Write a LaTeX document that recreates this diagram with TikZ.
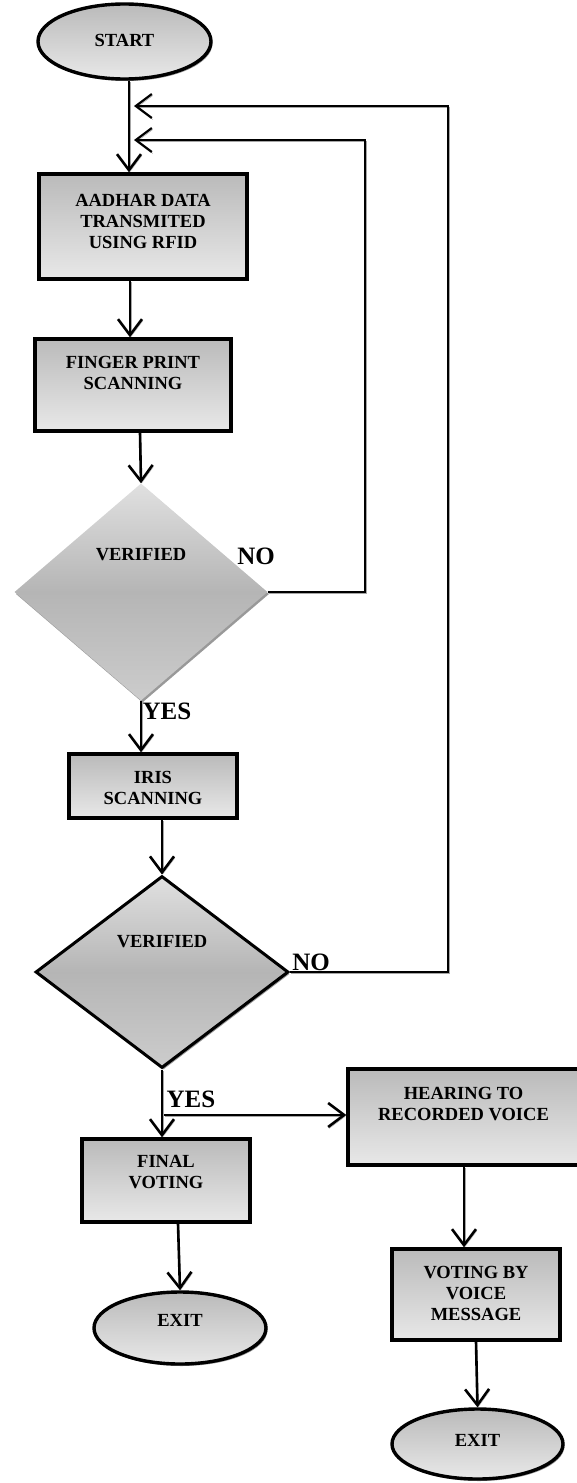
\documentclass[tikz,border=0pt]{standalone}
\usepackage{fontspec}
\setmainfont{Liberation Serif}
\usetikzlibrary{shapes.geometric,shadows,arrows.meta,calc}
\begin{document}
\begin{tikzpicture}[x=1pt,y=-1pt,
  shd/.style={drop shadow={shadow xshift=1.5pt,shadow yshift=-2pt,fill=black!40,opacity=1}},
  boxfill/.style={top color=black!27,bottom color=black!9},
  pbox/.style={rectangle,draw=black,line width=3.4pt,boxfill,shd,inner sep=0pt},
  term/.style={ellipse,draw=black,line width=3.4pt,boxfill,shd,inner sep=0pt},
  dec/.style={diamond,inner sep=0pt,top color=black!12,bottom color=black!20,middle color=black!29,shd},
  txt/.style={font=\bfseries\fontsize{18.5}{21}\selectfont,align=center,text=black},
  big/.style={font=\bfseries\fontsize{25}{28}\selectfont,text=black},
  arr/.style={line width=2.6pt,-{Straight Barb[length=16pt,width=24pt]},
    preaction={draw=black!35,transform canvas={xshift=1pt,yshift=-1.5pt}}},
  fb/.style={arr,line width=2.2pt}
]
\useasboundingbox (0,0) rectangle (577,1483);
\clip (0,0) rectangle (577,1483);

% terminals
\node[term,minimum width=173pt,minimum height=75pt] (start) at (124.5,41.5) {};
\node[txt] (startT) at (124.5,40) {START};
\node[term,minimum width=172pt,minimum height=72pt] (exit1) at (180,1328) {};
\node[txt] (exit1T) at (180,1320) {EXIT};
\node[term,minimum width=171pt,minimum height=70pt] (exit2) at (477.5,1444) {};
\node[txt] (exit2T) at (477.5,1440) {EXIT};

% process boxes
\node[pbox,minimum width=208pt,minimum height=105pt] (aadhar) at (143,226.5) {};
\node[txt] (aadharT) at (143,221) {AADHAR DATA\\TRANSMITED\\USING RFID};
\node[pbox,minimum width=196pt,minimum height=92pt] (finger) at (133,385) {};
\node[txt] (fingerT) at (133,372.5) {FINGER PRINT\\SCANNING};
\node[pbox,minimum width=168pt,minimum height=64pt] (iris) at (153,786) {};
\node[txt] (irisT) at (153,788) {IRIS\\SCANNING};
\node[pbox,minimum width=168pt,minimum height=83pt] (final) at (166,1180.5) {};
\node[txt] (finalT) at (166,1172.5) {FINAL\\VOTING};
\node[pbox,minimum width=231pt,minimum height=96pt] (hearing) at (463.5,1117) {};
\node[txt] (hearingT) at (463.5,1104) {HEARING TO\\RECORDED VOICE};
\node[pbox,minimum width=168pt,minimum height=91pt] (voting) at (476,1294.5) {};
\node[txt] (votingT) at (476,1293.5) {VOTING BY\\VOICE\\MESSAGE};

% decisions
\node[dec,minimum width=253pt,minimum height=217pt] (d1) at (141,592) {};
\node[txt] (d1T) at (141,555) {VERIFIED};
\node[dec,draw=black,line width=3pt,minimum width=253pt,minimum height=192pt] (d2) at (162,972) {};
\node[txt] (d2T) at (162,942) {VERIFIED};

% labels
\node[big] (no1) at (256,556) {NO};
\node[big] (no2) at (311,962) {NO};
\node[big] (yes1) at (167,711) {YES};
\node[big] (yes2) at (191,1099) {YES};

% connectors
\draw[arr] (start.south -| 129,0) -- (aadhar.north -| 129,0);
\draw[arr] (aadhar.south -| 130,0) -- (finger.north -| 130,0);
\draw[arr] (finger.south -| 140,0) -- (d1.north);
\draw[arr] (d1.south) -- (d1.south |- iris.north);
\draw[arr] (iris.south -| d2.north) -- (d2.north);
\draw[arr] (d2.south) -- (d2.south |- final.north);
\coordinate (split) at (164,1115);
\draw[arr] (split) -- (split -| hearing.west);
\draw[arr] (final.south -| 178,0) -- (exit1.north);
\draw[arr] (hearing.south -| 464,0) -- (voting.north -| 464,0);
\draw[arr] (voting.south) -- (exit2.north);

% feedback loops
\coordinate (r1) at (448,106);
\coordinate (in1) at (134,106);
\draw[fb] (d2.east) -| (r1) -- (in1);
\coordinate (r2) at (365,140);
\coordinate (in2) at (134,140);
\draw[fb] (d1.east) -| (r2) -- (in2);
\end{tikzpicture}
\end{document}
